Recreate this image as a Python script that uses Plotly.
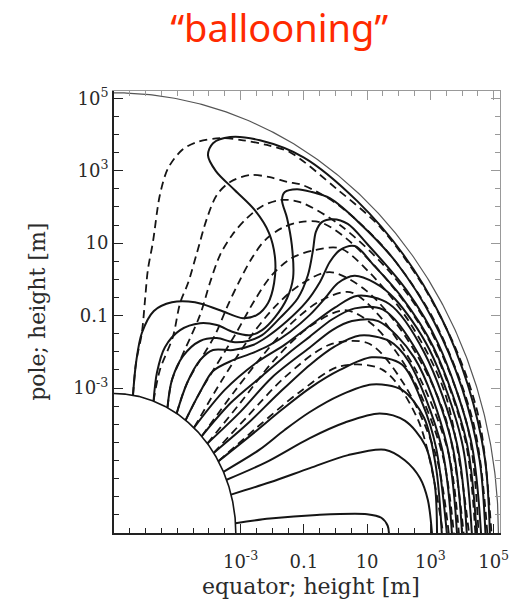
import numpy as np
import plotly.graph_objects as go

# ---- axis units: u = log10(height [m]) + 7 ; labels at u = 4..12 ----
tick_pos = [4, 6, 8, 10, 12]
tick_text = ["10<sup>-3</sup>", "0.1", "10", "10<sup>3</sup>", "10<sup>5</sup>"]

STAR_RADIUS = 3.85
OUTER_RADIUS = 12.15

# ---- solid field lines (equator coordinate, pole coordinate) ----
fl01_eq = [0.60, 0.70, 0.88, 1.26, 1.83, 2.56, 3.35, 4.08, 4.52, 4.87, 5.06, 5.09, 4.90, 4.45, 3.82, 3.22, 2.97, 3.13, 3.67, 4.61, 5.99, 7.69, 9.15, 10.33, 11.19, 11.72, 11.88]
fl01_pole = [3.80, 4.72, 5.52, 6.13, 6.37, 6.37, 6.15, 5.93, 6.02, 6.35, 6.90, 7.59, 8.28, 8.91, 9.46, 9.99, 10.43, 10.76, 10.93, 10.84, 10.37, 9.16, 7.68, 5.97, 4.07, 2.07, 0.0]

fl02_eq = [1.25, 1.36, 1.61, 2.09, 2.72, 3.25, 3.76, 4.30, 4.68, 5.09, 5.47, 5.66, 5.62, 5.47, 5.31, 5.40, 5.78, 6.26, 6.82, 7.73, 8.91, 10.11, 11.0, 11.55, 11.74]
fl02_pole = [3.64, 4.44, 5.13, 5.60, 5.79, 5.74, 5.55, 5.46, 5.60, 5.96, 6.48, 7.04, 7.95, 8.69, 9.19, 9.41, 9.49, 9.41, 9.24, 8.58, 7.48, 5.84, 4.0, 2.04, 0.0]

fl03_eq = [1.69, 1.83, 2.18, 2.72, 3.25, 3.76, 4.23, 4.68, 5.24, 5.81, 6.13, 6.29, 6.38, 6.57, 6.92, 7.39, 7.99, 9.24, 10.25, 11.27, 11.6]
fl03_pole = [3.46, 4.22, 4.88, 5.30, 5.38, 5.27, 5.30, 5.46, 5.93, 6.48, 7.12, 7.81, 8.31, 8.58, 8.66, 8.53, 7.99, 6.71, 5.22, 2.60, 0.0]

fl04_eq = [1.98, 2.31, 2.72, 3.13, 3.76, 4.39, 4.83, 5.47, 6.07, 6.51, 6.82, 7.14, 7.61, 8.21, 9.04, 10.09, 11.13, 11.46]
fl04_pole = [3.30, 4.14, 4.77, 5.05, 5.05, 5.19, 5.41, 5.85, 6.37, 6.93, 7.48, 7.81, 7.92, 7.39, 6.57, 5.14, 2.57, 0.0]

fl05_eq = [2.26, 2.72, 3.13, 3.76, 4.39, 4.93, 5.56, 6.19, 6.67, 7.08, 7.60, 8.23, 8.88, 9.96, 10.99, 11.31]
fl05_pole = [3.11, 3.89, 4.47, 4.77, 4.97, 5.19, 5.55, 6.02, 6.48, 6.90, 7.10, 6.91, 6.46, 5.08, 2.54, 0.0]

fl06_eq = [2.53, 3.50, 4.50, 5.40, 6.19, 6.98, 7.70, 8.70, 9.80, 10.83, 11.15]
fl06_pole = [2.91, 3.95, 4.70, 5.20, 5.72, 6.22, 6.55, 6.32, 4.99, 2.50, 0.0]

fl07_eq = [2.77, 3.70, 4.70, 5.50, 6.19, 6.90, 7.61, 8.49, 9.64, 10.68, 11.0]
fl07_pole = [2.67, 3.60, 4.35, 4.95, 5.42, 5.90, 6.20, 6.17, 4.91, 2.47, 0.0]

fl08_eq = [2.95, 4.00, 5.00, 6.19, 6.90, 7.52, 8.35, 9.49, 10.52, 10.84]
fl08_pole = [2.47, 3.35, 4.30, 5.12, 5.60, 5.85, 5.85, 4.84, 2.43, 0.0]

fl09_eq = [3.15, 4.20, 5.20, 6.19, 6.98, 7.77, 8.70, 9.31, 10.35, 10.68]
fl09_pole = [2.21, 3.00, 3.85, 4.64, 5.15, 5.45, 5.30, 4.74, 2.39, 0.0]

fl10_eq = [3.30, 4.40, 5.30, 6.19, 7.14, 8.15, 9.10, 9.76, 10.18, 10.52]
fl10_pole = [1.98, 2.75, 3.40, 4.00, 4.50, 4.85, 4.65, 3.55, 2.35, 0.0]

fl11_eq = [3.46, 4.60, 5.40, 6.19, 7.14, 8.15, 9.10, 9.80, 10.18, 10.36]
fl11_pole = [1.69, 2.30, 2.85, 3.34, 3.80, 4.10, 3.95, 3.18, 1.80, 0.0]

fl12_eq = [3.56, 4.80, 6.19, 7.30, 8.40, 9.19, 9.83, 10.14, 10.21]
fl12_pole = [1.47, 1.95, 2.62, 3.05, 3.30, 3.10, 2.43, 1.32, 0.0]

fl13_eq = [3.70, 4.93, 6.19, 7.40, 8.56, 9.19, 9.67, 9.92, 10.05]
fl13_pole = [1.06, 1.40, 1.79, 2.15, 2.30, 2.01, 1.52, 0.91, 0.0]

fl14_eq = [3.84, 4.93, 6.41, 8.00, 8.45, 8.65, 8.69]
fl14_pole = [0.27, 0.40, 0.50, 0.52, 0.42, 0.20, 0.0]

# ---- dashed (initial) field lines ----
dp01_eq = [0.60, 0.70, 0.88, 0.98, 1.07, 1.23, 1.45, 1.71, 2.15, 2.62, 3.35, 4.08, 4.83, 5.56, 7.05, 8.43, 9.75, 10.82, 11.55, 11.93]
dp01_pole = [3.80, 4.72, 5.52, 6.43, 7.26, 8.03, 9.33, 10.07, 10.57, 10.79, 10.90, 10.84, 10.71, 10.51, 9.49, 8.43, 6.85, 5.05, 3.10, 0.0]

dp02_eq = [1.25, 1.45, 1.86, 2.09, 2.34, 2.62, 2.94, 3.25, 3.67, 4.30, 4.93, 5.47, 5.97, 7.08, 8.63, 10.13, 11.36, 11.80]
dp02_pole = [3.64, 4.50, 5.41, 6.35, 6.90, 7.73, 8.69, 9.33, 9.69, 9.88, 9.82, 9.69, 9.60, 9.06, 7.78, 5.85, 3.04, 0.0]

dp03_eq = [1.69, 1.83, 2.09, 2.72, 3.03, 3.35, 3.73, 4.20, 4.68, 5.24, 5.88, 7.14, 8.66, 9.92, 11.16, 11.52]
dp03_pole = [3.46, 4.22, 4.77, 6.02, 6.90, 7.67, 8.22, 8.69, 9.02, 9.19, 9.13, 8.50, 7.26, 5.73, 2.99, 0.0]

dp04_eq = [1.98, 2.31, 3.19, 3.60, 3.98, 4.36, 4.77, 5.31, 5.88, 6.51, 7.33, 8.76, 10.07, 11.10, 11.42]
dp04_pole = [3.30, 4.14, 5.46, 6.29, 6.98, 7.59, 8.08, 8.42, 8.58, 8.58, 8.14, 6.85, 5.13, 2.57, 0.0]

dp05_eq = [2.26, 2.72, 3.82, 4.45, 4.99, 5.62, 6.35, 7.14, 8.03, 9.33, 10.48, 11.22]
dp05_pole = [3.11, 3.89, 5.46, 6.43, 7.12, 7.59, 7.81, 7.86, 7.23, 5.83, 3.81, 0.0]

dp06_eq = [2.53, 3.40, 4.30, 5.09, 5.88, 6.82, 7.97, 9.27, 10.47, 11.05]
dp06_pole = [2.91, 4.20, 5.40, 6.25, 6.85, 7.20, 6.69, 5.35, 3.20, 0.0]

dp07_eq = [2.77, 3.80, 4.70, 5.56, 6.51, 7.46, 8.33, 9.56, 10.56, 10.90]
dp07_pole = [2.67, 3.90, 4.90, 5.75, 6.40, 6.65, 6.05, 4.46, 2.25, 0.0]

dp08_eq = [2.95, 4.00, 5.09, 6.19, 7.30, 8.19, 9.38, 10.37, 10.74]
dp08_pole = [2.47, 3.60, 4.80, 5.70, 6.15, 5.74, 4.37, 2.20, 0.0]

dp09_eq = [3.15, 4.20, 5.40, 6.82, 8.05, 9.18, 10.17, 10.58]
dp09_pole = [2.21, 3.20, 4.30, 5.20, 5.23, 4.09, 2.16, 0.0]

dp10_eq = [3.30, 4.50, 5.88, 7.14, 8.48, 9.61, 10.40]
dp10_pole = [1.98, 2.90, 3.90, 4.60, 4.51, 3.12, 0.0]

solid_lines = [(fl01_eq, fl01_pole), (fl02_eq, fl02_pole), (fl03_eq, fl03_pole),
               (fl04_eq, fl04_pole), (fl05_eq, fl05_pole), (fl06_eq, fl06_pole),
               (fl07_eq, fl07_pole), (fl08_eq, fl08_pole), (fl09_eq, fl09_pole),
               (fl10_eq, fl10_pole), (fl11_eq, fl11_pole), (fl12_eq, fl12_pole),
               (fl13_eq, fl13_pole), (fl14_eq, fl14_pole)]
dashed_lines = [(dp01_eq, dp01_pole), (dp02_eq, dp02_pole), (dp03_eq, dp03_pole),
                (dp04_eq, dp04_pole), (dp05_eq, dp05_pole), (dp06_eq, dp06_pole),
                (dp07_eq, dp07_pole), (dp08_eq, dp08_pole), (dp09_eq, dp09_pole),
                (dp10_eq, dp10_pole)]

fig = go.Figure()

INK = "#151515"
for ex, py in dashed_lines:
    fig.add_trace(go.Scatter(x=ex, y=py, mode="lines", hoverinfo="skip",
                             line=dict(color=INK, width=1.8, dash="8px,5px",
                                       shape="spline", smoothing=0.9)))
for ex, py in solid_lines:
    fig.add_trace(go.Scatter(x=ex, y=py, mode="lines", hoverinfo="skip",
                             line=dict(color=INK, width=2.0, shape="spline", smoothing=0.9)))

ang = np.linspace(0, np.pi / 2, 240)
fig.add_trace(go.Scatter(x=STAR_RADIUS * np.cos(ang), y=STAR_RADIUS * np.sin(ang),
                         mode="lines", hoverinfo="skip", line=dict(color=INK, width=1.6)))
fig.add_trace(go.Scatter(x=OUTER_RADIUS * np.cos(ang), y=OUTER_RADIUS * np.sin(ang),
                         mode="lines", hoverinfo="skip", line=dict(color="#555", width=1.2)))
# carrier for mirrored top/right axes
fig.add_trace(go.Scatter(x=[None], y=[None], xaxis="x2", yaxis="y2", mode="lines",
                         hoverinfo="skip", showlegend=False))

tick_font = dict(family="DejaVu Serif", size=18, color="#2a2a2a")
common = dict(range=[0, 12.2], showgrid=False, zeroline=False, showline=True,
              ticks="inside", ticklen=9, tickwidth=1.4)
minor_dark = dict(ticks="inside", ticklen=5, tickcolor="#222", tickmode="linear",
                  tick0=0, dtick=0.5)
minor_light = dict(ticks="inside", ticklen=5, tickcolor="#999", tickmode="linear",
                   tick0=0, dtick=0.5)

fig.update_layout(
    width=522, height=603, showlegend=False,
    margin=dict(l=114, r=22, t=91, b=70),
    plot_bgcolor="white", paper_bgcolor="white",
    title=dict(text="\u201cballooning\u201d", x=0.535, y=0.952, xanchor="center",
               yanchor="middle", font=dict(family="Noto Sans", size=38, color="#ff2a00")),
    xaxis=dict(**common, linecolor="#222", linewidth=2, tickcolor="#222",
               tickmode="array", tickvals=tick_pos, ticktext=tick_text, tickfont=tick_font,
               ticklabelstandoff=11, minor=minor_dark),
    yaxis=dict(**common, linecolor="#222", linewidth=2, tickcolor="#222",
               tickmode="array", tickvals=tick_pos, ticktext=tick_text, tickfont=tick_font,
               minor=minor_dark),
    xaxis2=dict(**common, overlaying="x", side="top", anchor="y2", linecolor="#999",
                linewidth=1.2, tickcolor="#999", showticklabels=False,
                tickmode="array", tickvals=tick_pos, minor=minor_light),
    yaxis2=dict(**common, overlaying="y", side="right", anchor="x2", linecolor="#999",
                linewidth=1.2, tickcolor="#999", showticklabels=False,
                tickmode="array", tickvals=tick_pos, minor=minor_light),
    annotations=[
        dict(text="equator; height [m]", xref="paper", yref="paper", x=0.51, y=-0.122,
             xanchor="center", yanchor="middle", showarrow=False,
             font=dict(family="DejaVu Serif", size=22, color="#2a2a2a")),
        dict(text="pole; height [m]", xref="paper", yref="paper", x=-0.20, y=0.5,
             xanchor="center", yanchor="middle", textangle=-90, showarrow=False,
             font=dict(family="DejaVu Serif", size=22, color="#2a2a2a")),
    ],
)

fig.write_html("out.html")
